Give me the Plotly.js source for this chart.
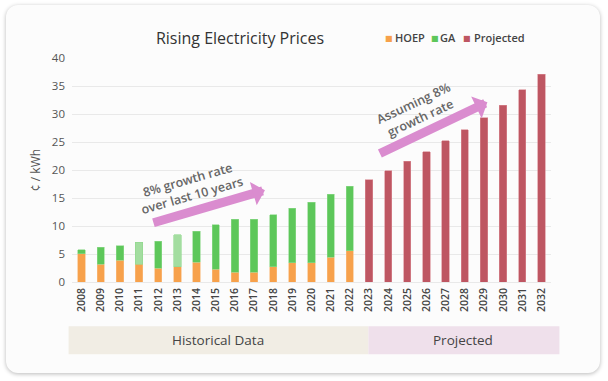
<!DOCTYPE html>
<html>
<head>
<meta charset="utf-8">
<script src="https://cdn.plot.ly/plotly-3.0.1.min.js"></script>
<style>
  html, body { margin: 0; padding: 0; background: #ffffff; }
  #card { position: absolute; left: 6px; top: 5px; width: 594px; height: 368px;
          background: #fcfcfc; border-radius: 12px; box-shadow: 0 1px 4px rgba(0,0,0,0.28); }
  #chart { position: absolute; left: 0; top: 0; width: 608px; height: 381px; }
</style>
</head>
<body>
<div id="card"></div>
<div id="chart"></div>
<script>
// ---- data ----
const histYears = ['2008','2009','2010','2011','2012','2013','2014','2015','2016','2017','2018','2019','2020','2021','2022'];
const projYears = ['2023','2024','2025','2026','2027','2028','2029','2030','2031','2032'];
const hoep = [5.07, 3.16, 3.9, 3.16, 2.5, 2.68, 3.57, 2.32, 1.73, 1.73, 2.68, 3.45, 3.45, 4.46, 5.54];
const ga   = [0.73, 3.04, 2.53, 3.93, 4.77, 5.78, 5.48, 7.88, 9.52, 9.52, 9.32, 9.75, 10.75, 11.19, 11.56];
const projected = [18.3, 19.9, 21.55, 23.3, 25.2, 27.2, 29.3, 31.6, 34.35, 37.1];
const lightGaYears = ['2011', '2013'];
const yTicks = [0, 5, 10, 15, 20, 25, 30, 35, 40];

// ---- styling ----
const C_HOEP = '#F7A14B', C_GA = '#5DC75A', C_GA_LIGHT = '#A3DDA0', C_PROJ = '#BE5662', C_ARROW = '#DA8CCF';
const FONT = '"Open Sans", sans-serif';
const L = 72.4, W = 478.2, T = 57.7, H = 224;
const px2x = p => (p - L) / W;
const px2y = p => (T + H - p) / H;

const gaColors = histYears.map(y => lightGaYears.includes(y) ? C_GA_LIGHT : C_GA);

const traces = [
  { type: 'bar', name: 'HOEP', x: histYears, y: hoep, width: 0.38,
    marker: { color: C_HOEP, line: { color: '#f9bd80', width: 0.6 } } },
  { type: 'bar', name: 'GA', x: histYears, y: ga, width: 0.38,
    marker: { color: gaColors, line: { color: '#8fd88c', width: 0.6 } } },
  { type: 'bar', name: 'Projected', x: projYears, y: projected, width: 0.38,
    marker: { color: C_PROJ, line: { color: '#d98a93', width: 0.6 } } }
];

const annotations = [
  // arrows
  { x: 9.57, y: 16.4, xref: 'x', yref: 'y', ax: -113, ay: 33, text: '', showarrow: true,
    arrowhead: 1, arrowcolor: C_ARROW, arrowwidth: 9, arrowsize: 0.45, standoff: 0 },
  { x: 21.18, y: 32.1, xref: 'x', yref: 'y', ax: -109, ay: 52, text: '', showarrow: true,
    arrowhead: 1, arrowcolor: C_ARROW, arrowwidth: 9, arrowsize: 0.45, standoff: 0 },
  // arrow texts
  { x: 5.65, y: 16.95, xref: 'x', yref: 'y', text: '8% growth rate<br>over last 10 years', showarrow: false,
    xanchor: 'center', yanchor: 'middle',
    textangle: -16, font: { family: FONT, size: 12.5, color: '#666', weight: 600 } },
  { x: 17.5, y: 30.6, xref: 'x', yref: 'y', text: 'Assuming 8%<br>growth rate', showarrow: false,
    xanchor: 'center', yanchor: 'middle',
    textangle: -25, font: { family: FONT, size: 12.5, color: '#666', weight: 600 } },
  // bands text
  { x: px2x(218), y: px2y(340), xref: 'paper', yref: 'paper', text: 'Historical Data', showarrow: false,
    xanchor: 'center', yanchor: 'middle', font: { family: FONT, size: 13.5, color: '#444' } },
  { x: px2x(463), y: px2y(340), xref: 'paper', yref: 'paper', text: 'Projected', showarrow: false,
    xanchor: 'center', yanchor: 'middle', font: { family: FONT, size: 13.5, color: '#444' } }
];

// legend (compact, top-right)
const legendItems = [
  { name: 'HOEP', color: C_HOEP, sq: 388.7, tx: 395 },
  { name: 'GA', color: C_GA, sq: 434.7, tx: 440 },
  { name: 'Projected', color: C_PROJ, sq: 467, tx: 473.5 }
];
legendItems.forEach(it => {
  annotations.push({ x: px2x(it.sq), y: px2y(38), xref: 'paper', yref: 'paper', text: '■', showarrow: false,
    xanchor: 'center', yanchor: 'middle', font: { family: 'DejaVu Sans', size: 8, color: it.color } });
  annotations.push({ x: px2x(it.tx), y: px2y(37.5), xref: 'paper', yref: 'paper', text: it.name, showarrow: false,
    xanchor: 'left', yanchor: 'middle', xshift: -2, font: { family: FONT, size: 11, color: '#444', weight: 600 } });
});

const shapes = [
  { type: 'rect', xref: 'paper', yref: 'paper', x0: px2x(69), x1: px2x(368.3), y0: px2y(354), y1: px2y(326),
    fillcolor: '#F1EDE4', line: { width: 0 }, layer: 'below' },
  { type: 'rect', xref: 'paper', yref: 'paper', x0: px2x(368.3), x1: px2x(559), y0: px2y(354), y1: px2y(326),
    fillcolor: '#EFE0EB', line: { width: 0 }, layer: 'below' }
];

const layout = {
  width: 608, height: 381,
  margin: { l: L, r: 608 - L - W, t: T, b: 381 - T - H, pad: 0 },
  paper_bgcolor: 'rgba(0,0,0,0)', plot_bgcolor: 'rgba(0,0,0,0)',
  font: { family: FONT, color: '#444' },
  title: { text: 'Rising Electricity Prices', x: 240 / 608, xref: 'container', xanchor: 'center',
           y: 1 - 38 / 381, yref: 'container', yanchor: 'middle',
           font: { family: FONT, size: 16, color: '#333' } },
  barmode: 'stack', bargap: 0.6,
  showlegend: false,
  xaxis: { type: 'category', tickangle: -90, showgrid: false, zeroline: false, showline: false,
           ticks: '', ticklabelstandoff: 3,
           tickfont: { family: FONT, size: 10.5, color: '#444', weight: 600 },
           range: [-0.5, 24.5] },
  yaxis: { range: [0, 40], tickvals: yTicks, showgrid: true, gridcolor: '#e9e9e9', gridwidth: 1,
           zeroline: true, zerolinecolor: '#e9e9e9', showline: false, ticks: '', ticklabelstandoff: 6,
           tickfont: { family: FONT, size: 11.5, color: '#555' },
           title: { text: '¢ / kWh', standoff: 8, font: { family: FONT, size: 12, color: '#555' } } },
  annotations: annotations,
  shapes: shapes
};

Plotly.newPlot('chart', traces, layout, { displayModeBar: false, staticPlot: true });
</script>
</body>
</html>
